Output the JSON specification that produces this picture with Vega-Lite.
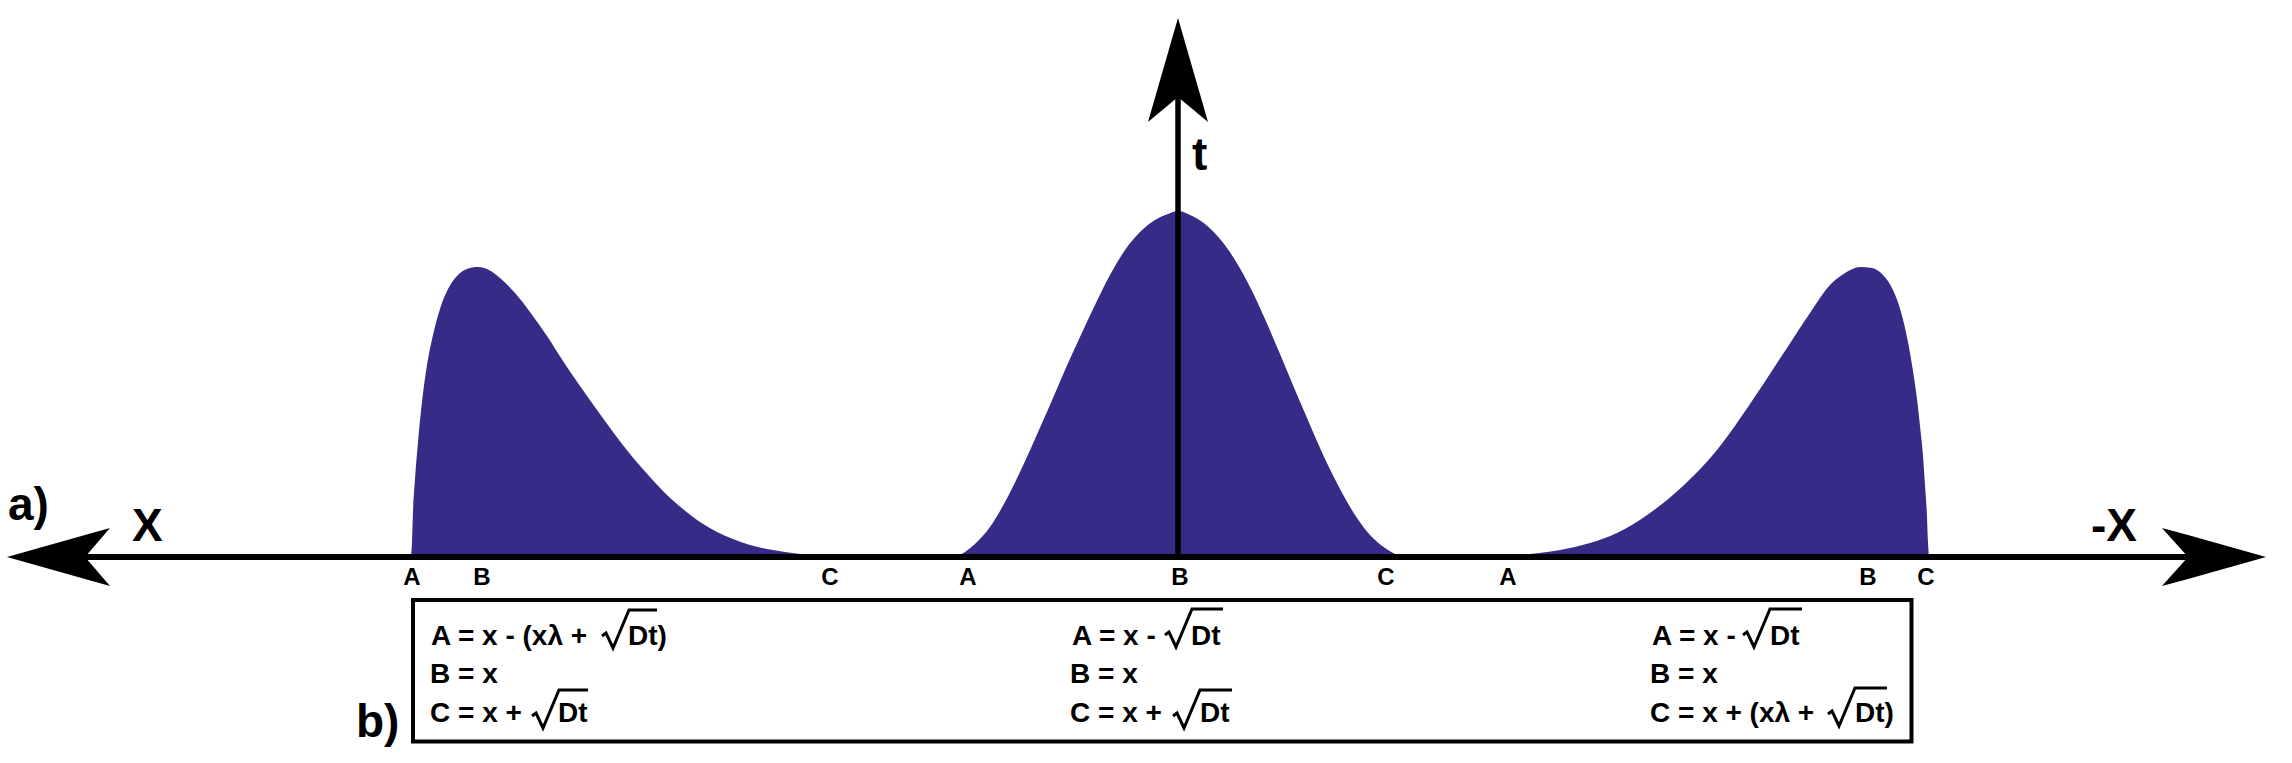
{
  "$schema": "https://vega.github.io/schema/vega-lite/v6.json",
  "width": 2292,
  "height": 763,
  "autosize": "none",
  "padding": 0,
  "background": "white",
  "config": {"view": {"stroke": null}, "axis": {"disable": true}},
  "datasets": {
    "curves": [
      {"c":1,"x":411,"y":0},{"c":1,"x":412,"y":15},{"c":1,"x":413,"y":45},{"c":1,"x":415,"y":78},{"c":1,"x":418,"y":115},{"c":1,"x":422,"y":155},{"c":1,"x":427,"y":192},{"c":1,"x":433,"y":222},{"c":1,"x":440,"y":248},{"c":1,"x":448,"y":268},{"c":1,"x":457,"y":281},{"c":1,"x":467,"y":288},{"c":1,"x":478,"y":290},{"c":1,"x":489,"y":287},{"c":1,"x":500,"y":279},{"c":1,"x":515,"y":264},{"c":1,"x":530,"y":245},{"c":1,"x":547,"y":221},{"c":1,"x":563,"y":196},{"c":1,"x":580,"y":171},{"c":1,"x":597,"y":147},{"c":1,"x":613,"y":125},{"c":1,"x":630,"y":103},{"c":1,"x":650,"y":80},{"c":1,"x":667,"y":62},{"c":1,"x":683,"y":48},{"c":1,"x":700,"y":35},{"c":1,"x":717,"y":25},{"c":1,"x":733,"y":18},{"c":1,"x":750,"y":12},{"c":1,"x":767,"y":8},{"c":1,"x":785,"y":5},{"c":1,"x":800,"y":3},{"c":1,"x":820,"y":1},{"c":1,"x":835,"y":0},
      {"c":2,"x":955,"y":0},{"c":2,"x":965,"y":5},{"c":2,"x":975,"y":13},{"c":2,"x":990,"y":30},{"c":2,"x":1005,"y":55},{"c":2,"x":1020,"y":85},{"c":2,"x":1035,"y":118},{"c":2,"x":1050,"y":152},{"c":2,"x":1065,"y":187},{"c":2,"x":1080,"y":220},{"c":2,"x":1095,"y":252},{"c":2,"x":1110,"y":282},{"c":2,"x":1125,"y":307},{"c":2,"x":1140,"y":325},{"c":2,"x":1155,"y":337},{"c":2,"x":1168,"y":343},{"c":2,"x":1178,"y":346},{"c":2,"x":1190,"y":342},{"c":2,"x":1205,"y":333},{"c":2,"x":1220,"y":318},{"c":2,"x":1235,"y":297},{"c":2,"x":1250,"y":270},{"c":2,"x":1265,"y":238},{"c":2,"x":1280,"y":203},{"c":2,"x":1295,"y":167},{"c":2,"x":1310,"y":132},{"c":2,"x":1325,"y":98},{"c":2,"x":1340,"y":68},{"c":2,"x":1355,"y":42},{"c":2,"x":1370,"y":22},{"c":2,"x":1385,"y":9},{"c":2,"x":1395,"y":3},{"c":2,"x":1402,"y":0},
      {"c":3,"x":1470,"y":0},{"c":3,"x":1500,"y":1},{"c":3,"x":1530,"y":3},{"c":3,"x":1560,"y":7},{"c":3,"x":1590,"y":14},{"c":3,"x":1617,"y":24},{"c":3,"x":1650,"y":44},{"c":3,"x":1683,"y":71},{"c":3,"x":1717,"y":107},{"c":3,"x":1750,"y":153},{"c":3,"x":1783,"y":203},{"c":3,"x":1810,"y":244},{"c":3,"x":1830,"y":272},{"c":3,"x":1845,"y":284},{"c":3,"x":1860,"y":290},{"c":3,"x":1872,"y":289},{"c":3,"x":1883,"y":282},{"c":3,"x":1893,"y":267},{"c":3,"x":1901,"y":245},{"c":3,"x":1908,"y":215},{"c":3,"x":1913,"y":186},{"c":3,"x":1917,"y":158},{"c":3,"x":1920,"y":131},{"c":3,"x":1923,"y":101},{"c":3,"x":1925,"y":72},{"c":3,"x":1927,"y":40},{"c":3,"x":1928,"y":15},{"c":3,"x":1929,"y":0}
    ],
    "harrow": [
      {"p":"lu","x":7,"y":0,"y2":0},{"p":"lu","x":85,"y":22,"y2":0},{"p":"lu","x":110,"y":29,"y2":29},
      {"p":"ll","x":7,"y":0,"y2":0},{"p":"ll","x":85,"y":0,"y2":-22},{"p":"ll","x":110,"y":-29,"y2":-29},
      {"p":"ru","x":2162,"y":29,"y2":29},{"p":"ru","x":2188,"y":22,"y2":0},{"p":"ru","x":2266,"y":0,"y2":0},
      {"p":"rl","x":2162,"y":-29,"y2":-29},{"p":"rl","x":2188,"y":0,"y2":-22},{"p":"rl","x":2266,"y":0,"y2":0}
    ],
    "varrow": [
      {"p":"l","y":435,"x":1148,"x2":1148},{"p":"l","y":460,"x":1155.2,"x2":1178},{"p":"l","y":539,"x":1178,"x2":1178},
      {"p":"r","y":435,"x":1208,"x2":1208},{"p":"r","y":460,"x":1178,"x2":1200.8},{"p":"r","y":539,"x":1178,"x2":1178}
    ],
    "box": [{"x":413,"x2":1911.5,"y":-43,"y2":-184.5}],
    "big": [
      {"t":"a)","x":8,"y":37},
      {"t":"X","x":132,"y":16},
      {"t":"-X","x":2091,"y":16},
      {"t":"t","x":1192,"y":387},
      {"t":"b)","x":356,"y":-180}
    ],
    "pts": [
      {"t":"A","x":412,"y":-28},{"t":"B","x":482,"y":-28},{"t":"C","x":830,"y":-28},
      {"t":"A","x":968,"y":-28},{"t":"B","x":1180,"y":-28},{"t":"C","x":1386,"y":-28},
      {"t":"A","x":1508,"y":-28},{"t":"B","x":1868,"y":-28},{"t":"C","x":1926,"y":-28}
    ],
    "formula": [
      {"t":"A = x - (xλ +","x":431,"y":-88},
      {"t":"Dt)","x":628,"y":-88},
      {"t":"B = x","x":430,"y":-126},
      {"t":"C = x +","x":430,"y":-165},
      {"t":"Dt","x":558,"y":-165},
      {"t":"A = x -","x":1072,"y":-88},
      {"t":"Dt","x":1191,"y":-88},
      {"t":"B = x","x":1070,"y":-126},
      {"t":"C = x +","x":1070,"y":-165},
      {"t":"Dt","x":1200,"y":-165},
      {"t":"A = x -","x":1652,"y":-88},
      {"t":"Dt","x":1770,"y":-88},
      {"t":"B = x","x":1650,"y":-126},
      {"t":"C = x + (xλ +","x":1650,"y":-165},
      {"t":"Dt)","x":1855,"y":-165}
    ],
    "rad": [
      {"r":1,"o":0,"x":602,"y":-79},{"r":1,"o":1,"x":606,"y":-76},{"r":1,"o":2,"x":613,"y":-91},{"r":1,"o":3,"x":629,"y":-53},{"r":1,"o":4,"x":657,"y":-53},
      {"r":2,"o":0,"x":532,"y":-159},{"r":2,"o":1,"x":536,"y":-156},{"r":2,"o":2,"x":543,"y":-171},{"r":2,"o":3,"x":559,"y":-133},{"r":2,"o":4,"x":588,"y":-133},
      {"r":3,"o":0,"x":1165,"y":-78},{"r":3,"o":1,"x":1169,"y":-75},{"r":3,"o":2,"x":1176,"y":-90},{"r":3,"o":3,"x":1192,"y":-52},{"r":3,"o":4,"x":1223,"y":-52},
      {"r":4,"o":0,"x":1173,"y":-159},{"r":4,"o":1,"x":1177,"y":-156},{"r":4,"o":2,"x":1184,"y":-171},{"r":4,"o":3,"x":1200,"y":-133},{"r":4,"o":4,"x":1232,"y":-133},
      {"r":5,"o":0,"x":1743,"y":-78},{"r":5,"o":1,"x":1747,"y":-75},{"r":5,"o":2,"x":1754,"y":-90},{"r":5,"o":3,"x":1770,"y":-52},{"r":5,"o":4,"x":1802,"y":-52},
      {"r":6,"o":0,"x":1828,"y":-157},{"r":6,"o":1,"x":1832,"y":-154},{"r":6,"o":2,"x":1839,"y":-169},{"r":6,"o":3,"x":1855,"y":-131},{"r":6,"o":4,"x":1887,"y":-131}
    ],
    "hline": [{"x":85,"x2":2188,"y":0}],
    "vline": [{"x":1178,"y":0,"y2":460}]
  },
  "layer": [
    {
      "data": {"name": "curves"},
      "mark": {"type": "area", "color": "#362b87", "interpolate": "monotone", "orient": "vertical"},
      "encoding": {
        "x": {"field": "x", "type": "quantitative", "scale": {"domain": [0, 2292], "nice": false, "zero": false}, "axis": null},
        "y": {"field": "y", "type": "quantitative", "scale": {"domain": [-206, 557], "nice": false, "zero": false}, "axis": null, "stack": null},
        "y2": {"datum": 0},
        "detail": {"field": "c"}
      }
    },
    {
      "data": {"name": "hline"},
      "mark": {"type": "rule", "color": "black", "strokeWidth": 6},
      "encoding": {
        "x": {"field": "x", "type": "quantitative", "axis": null},
        "x2": {"field": "x2"},
        "y": {"field": "y", "type": "quantitative", "axis": null}
      }
    },
    {
      "data": {"name": "vline"},
      "mark": {"type": "rule", "color": "black", "strokeWidth": 5.5},
      "encoding": {
        "x": {"field": "x", "type": "quantitative", "axis": null},
        "y": {"field": "y", "type": "quantitative", "axis": null},
        "y2": {"field": "y2"}
      }
    },
    {
      "data": {"name": "harrow"},
      "mark": {"type": "area", "color": "black", "orient": "vertical", "interpolate": "linear"},
      "encoding": {
        "x": {"field": "x", "type": "quantitative", "axis": null},
        "y": {"field": "y", "type": "quantitative", "axis": null, "stack": null},
        "y2": {"field": "y2"},
        "detail": {"field": "p"}
      }
    },
    {
      "data": {"name": "varrow"},
      "mark": {"type": "area", "color": "black", "orient": "horizontal", "interpolate": "linear"},
      "encoding": {
        "y": {"field": "y", "type": "quantitative", "axis": null},
        "x": {"field": "x", "type": "quantitative", "axis": null, "stack": null},
        "x2": {"field": "x2"},
        "detail": {"field": "p"}
      }
    },
    {
      "data": {"name": "box"},
      "mark": {"type": "rect", "filled": false, "stroke": "black", "strokeWidth": 4},
      "encoding": {
        "x": {"field": "x", "type": "quantitative", "axis": null},
        "x2": {"field": "x2"},
        "y": {"field": "y", "type": "quantitative", "axis": null},
        "y2": {"field": "y2"}
      }
    },
    {
      "data": {"name": "big"},
      "mark": {"type": "text", "font": "Liberation Sans", "fontWeight": "bold", "fontSize": 46, "align": "left", "baseline": "alphabetic", "color": "black"},
      "encoding": {
        "x": {"field": "x", "type": "quantitative", "axis": null},
        "y": {"field": "y", "type": "quantitative", "axis": null},
        "text": {"field": "t"}
      }
    },
    {
      "data": {"name": "pts"},
      "mark": {"type": "text", "font": "Liberation Sans", "fontWeight": "bold", "fontSize": 24, "align": "center", "baseline": "alphabetic", "color": "black"},
      "encoding": {
        "x": {"field": "x", "type": "quantitative", "axis": null},
        "y": {"field": "y", "type": "quantitative", "axis": null},
        "text": {"field": "t"}
      }
    },
    {
      "data": {"name": "formula"},
      "mark": {"type": "text", "font": "Liberation Sans", "fontWeight": "bold", "fontSize": 28, "align": "left", "baseline": "alphabetic", "color": "black"},
      "encoding": {
        "x": {"field": "x", "type": "quantitative", "axis": null},
        "y": {"field": "y", "type": "quantitative", "axis": null},
        "text": {"field": "t"}
      }
    },
    {
      "data": {"name": "rad"},
      "mark": {"type": "line", "color": "black", "strokeWidth": 3, "strokeJoin": "miter", "strokeCap": "butt"},
      "encoding": {
        "x": {"field": "x", "type": "quantitative", "axis": null},
        "y": {"field": "y", "type": "quantitative", "axis": null},
        "detail": {"field": "r"},
        "order": {"field": "o"}
      }
    }
  ]
}
